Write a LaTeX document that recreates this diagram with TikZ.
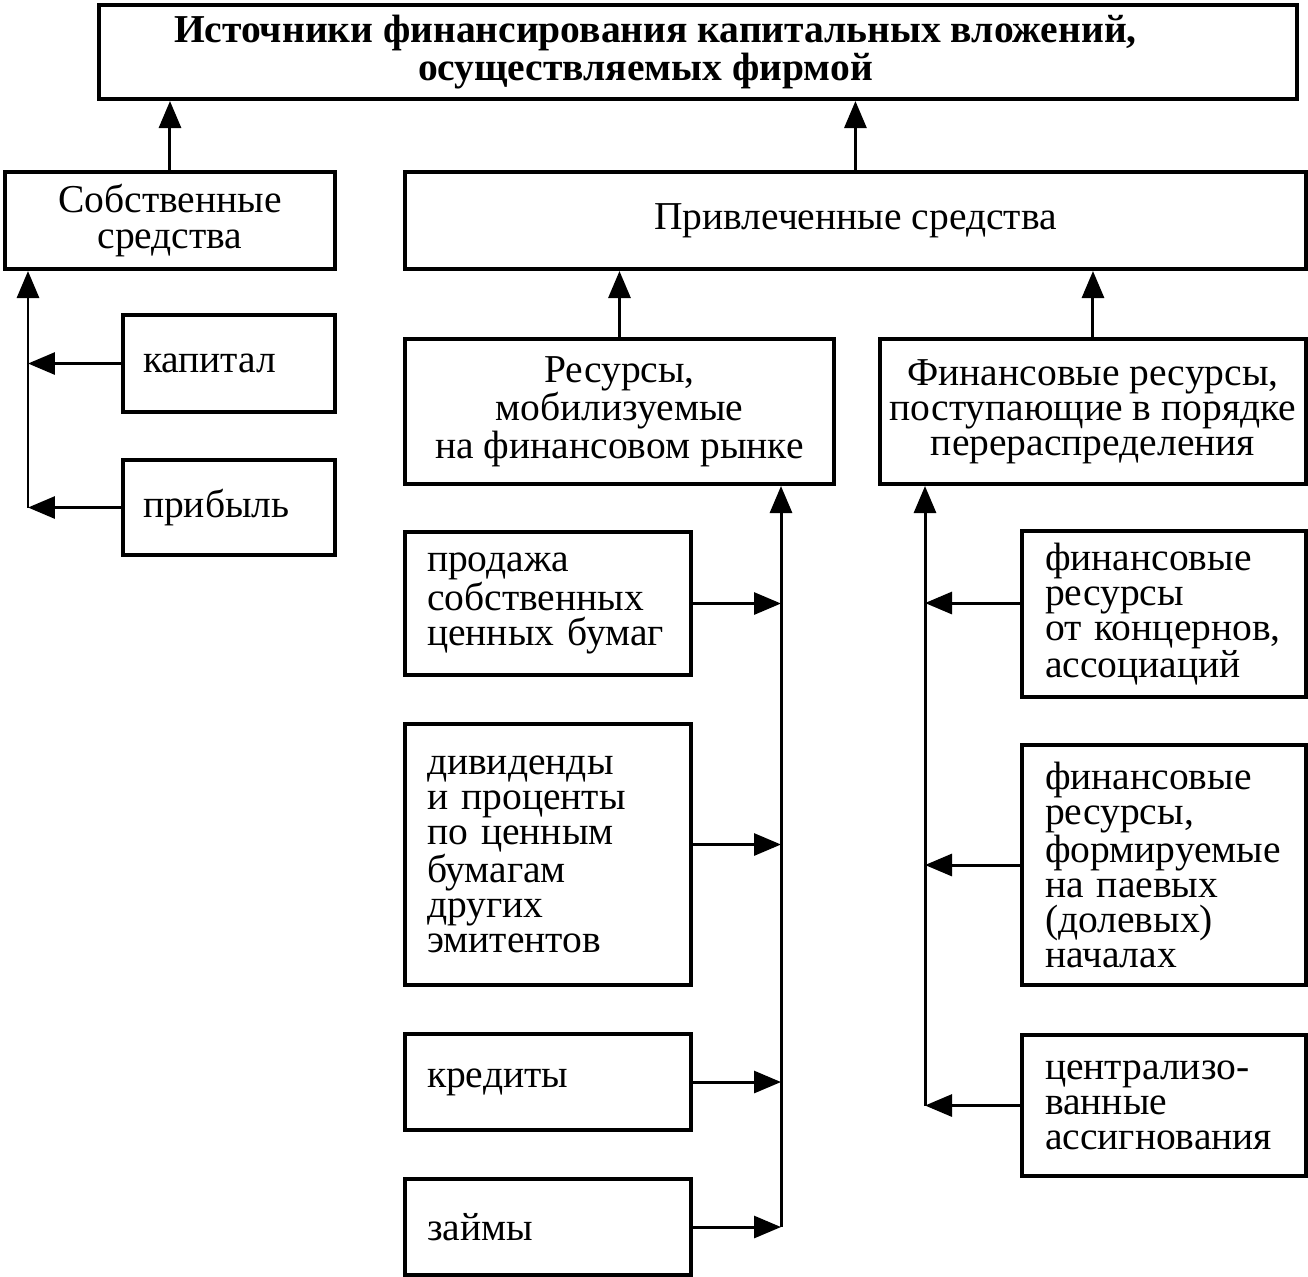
\documentclass[tikz,border=0pt]{standalone}
\usepackage{fontspec}
\setmainfont{Liberation Serif}
\usepackage{tikz}
\usetikzlibrary{arrows.meta, positioning}

\begin{document}
\begin{tikzpicture}[x=0.02cm, y=-0.02cm,
        box/.style={draw, line width=2.3pt, anchor=north west, align=center,
            inner sep=0pt, font=\fontsize{22.5}{20}\selectfont},
        lbox/.style={box, align=left, inner xsep=0.44cm},
        link/.style={line width=1.7pt, -{Triangle[length=0.54cm, width=0.44cm]}}]
            \useasboundingbox (0,0) rectangle (1308,1276);

            \node[box, minimum width=23.96cm, minimum height=1.88cm] (top) at (97,3)
                {\bfseries Источники финансирования капитальных вложений,\hspace*{1.7cm}\\
                 \bfseries осуществляемых фирмой\hspace*{2.1cm}};

            \node[box, minimum width=6.6cm, minimum height=1.94cm] (own) at (3,170) {Собственные\\средства};
            \node[box, minimum width=18.02cm, minimum height=1.94cm] (attr) at (403,170) {Привлеченные средства};

            \node[lbox, text width=3.44cm, inner xsep=0.4cm, minimum height=1.94cm] (kap) at (121,313) {капитал};
            \node[lbox, text width=3.44cm, inner xsep=0.4cm, minimum height=1.9cm] (prib) at (121,458) {прибыль};

            \node[box, minimum width=8.58cm, minimum height=2.9cm] (market) at (403,337)
                {Ресурсы,\\мобилизуемые\\на финансовом рынке};
            \node[box, minimum width=8.52cm, minimum height=2.9cm] (redist) at (878,337)
                {Финансовые ресурсы,\\поступающие в порядке\\перераспределения};

            \node[lbox, text width=4.84cm, minimum height=2.86cm] (sale) at (403,530)
                {продажа\\собственных\\ценных бумаг};
            \node[lbox, text width=4.84cm, minimum height=5.22cm] (divid) at (403,722)
                {дивиденды\\и проценты\\по ценным\\бумагам\\других\\эмитентов};
            \node[lbox, text width=4.84cm, minimum height=1.92cm] (credit) at (403,1032) {кредиты};
            \node[lbox, text width=4.84cm, minimum height=1.92cm] (loan) at (403,1177) {займы};

            \node[lbox, text width=4.76cm, inner xsep=0.46cm, minimum height=3.32cm] (concern) at (1020,529)
                {финансовые\\ресурсы\\от концернов,\\ассоциаций};
            \node[lbox, text width=4.76cm, inner xsep=0.46cm, minimum height=4.8cm] (share) at (1020,743)
                {финансовые\\ресурсы,\\формируемые\\на паевых\\(долевых)\\началах};
            \node[lbox, text width=4.76cm, inner xsep=0.46cm, minimum height=2.82cm] (central) at (1020,1033)
                {централизо-\\ванные\\ассигнования};

            % upper links
            \draw[link] (own.north) -- (own.north |- top.south);
            \draw[link] (attr.north) -- (attr.north |- top.south);
            \draw[link] (market.north) -- (market.north |- attr.south);
            \draw[link] (redist.north) -- (redist.north |- attr.south);

            % spines
            \coordinate (lbus) at (28,0);
            \coordinate (mbus) at (781,0);
            \coordinate (rbus) at (925,0);

            \draw[link] (prib.west -| lbus) -- (lbus |- own.south);
            \draw[link] (kap.west) -- (kap.west -| lbus);
            \draw[link] (prib.west) -- (prib.west -| lbus);

            \draw[link] (loan.east -| mbus) -- (mbus |- market.south);
            \draw[link] (sale.east) -- (sale.east -| mbus);
            \draw[link] ([yshift=0.2cm]divid.east) -- ([yshift=0.2cm]divid.east -| mbus);
            \draw[link] (credit.east) -- (credit.east -| mbus);
            \draw[link] (loan.east) -- (loan.east -| mbus);

            \draw[link] (central.west -| rbus) -- (rbus |- redist.south);
            \draw[link] ([yshift=0.22cm]concern.west) -- ([yshift=0.22cm]concern.west -| rbus);
            \draw[link] (share.west) -- (share.west -| rbus);
            \draw[link] (central.west) -- (central.west -| rbus);
        \end{tikzpicture}
\end{document}
